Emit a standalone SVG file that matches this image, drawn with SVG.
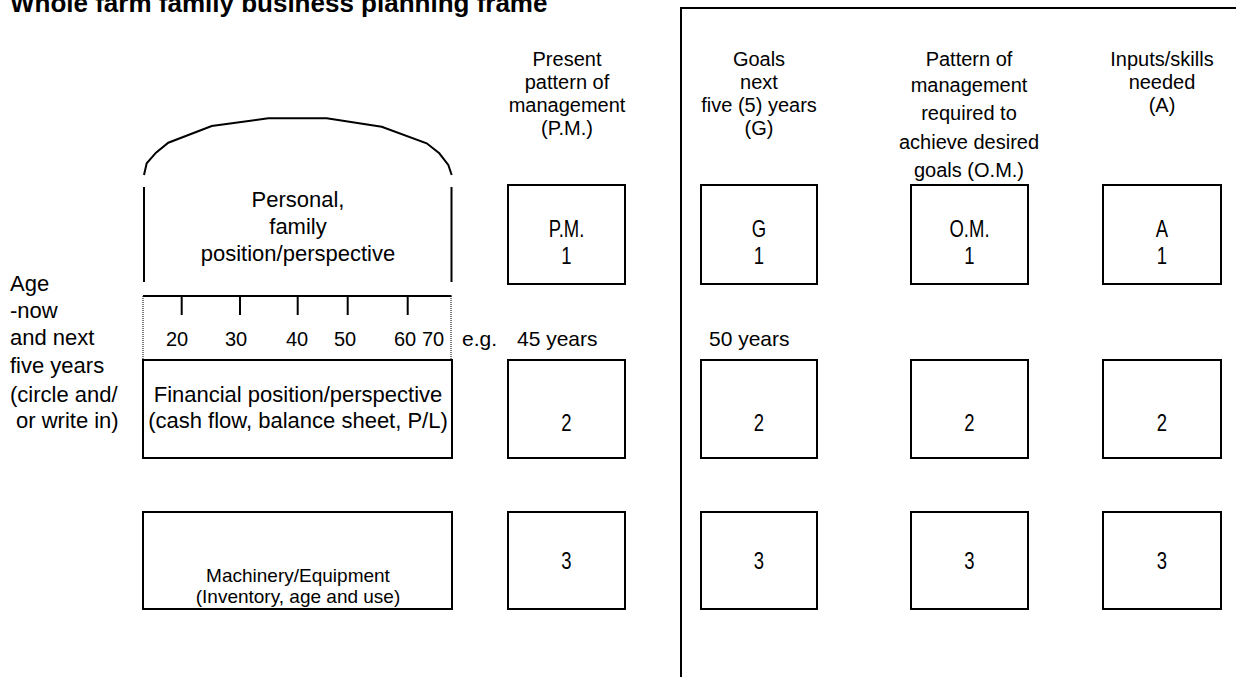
<svg xmlns="http://www.w3.org/2000/svg" width="1236" height="677" viewBox="0 0 1236 677">
<style>
.ln{stroke:#000;stroke-width:2;fill:none}
.dot{stroke:#000;stroke-width:1;stroke-dasharray:1 1;fill:none}
.box{stroke:#000;stroke-width:2;fill:#fff}
text{font-family:"Liberation Sans",Arial,sans-serif;fill:#000}
.title{font-size:26px;font-weight:bold}
.h{font-size:20px;text-anchor:middle}
.l{font-size:22px}
.c22{font-size:22px;text-anchor:middle}
.c19{font-size:19px;text-anchor:middle}
.n{font-size:20px;text-anchor:middle}
.lab{font-size:24px;text-anchor:middle}
</style>
<rect width="1236" height="677" fill="#fff"/>
<text class="title" x="10" y="12">Whole farm family business planning frame</text>

<g id="frame">
<polyline class="ln" points="681,677 681,8 1236,8"/>
</g>

<g id="headers">
<text class="h"><tspan x="567" y="66">Present</tspan><tspan x="567" y="89">pattern of</tspan><tspan x="567" y="112">management</tspan><tspan x="567" y="135">(P.M.)</tspan></text>
<text class="h"><tspan x="759" y="66">Goals</tspan><tspan x="759" y="89">next</tspan><tspan x="759" y="112">five (5) years</tspan><tspan x="759" y="135">(G)</tspan></text>
<text class="h"><tspan x="969" y="66">Pattern of</tspan><tspan x="969" y="92">management</tspan><tspan x="969" y="120">required to</tspan><tspan x="969" y="149">achieve desired</tspan><tspan x="969" y="177">goals (O.M.)</tspan></text>
<text class="h"><tspan x="1162" y="66">Inputs/skills</tspan><tspan x="1162" y="89">needed</tspan><tspan x="1162" y="112">(A)</tspan></text>
</g>

<g id="age-label">
<text class="l"><tspan x="10" y="290.5">Age</tspan><tspan x="10" y="317.5">-now</tspan><tspan x="10" y="345">and next</tspan><tspan x="10" y="373">five years</tspan><tspan x="10" y="401.5">(circle and/</tspan><tspan x="16" y="428">or write in)</tspan></text>
</g>

<g id="personal">
<polyline class="ln" points="144,175 146.7,163.3 156,152.7 168.3,142.7 211.7,126 268.3,118.3 326.7,118.3 381.7,126.7 426.7,143.3 439.3,153.3 448.3,165 451.7,175"/>
<line class="ln" x1="144" y1="187" x2="144" y2="282"/>
<line class="ln" x1="451.5" y1="187" x2="451.5" y2="282"/>
<text class="c22"><tspan x="298" y="207">Personal,</tspan><tspan x="298" y="234">family</tspan><tspan x="298" y="261">position/perspective</tspan></text>
</g>

<g id="age-scale">
<line class="ln" x1="143" y1="296" x2="451.5" y2="296"/>
<line class="ln" x1="181.7" y1="296" x2="181.7" y2="315"/>
<line class="ln" x1="240" y1="296" x2="240" y2="315"/>
<line class="ln" x1="297.7" y1="296" x2="297.7" y2="315"/>
<line class="ln" x1="347.7" y1="296" x2="347.7" y2="315"/>
<line class="ln" x1="407.7" y1="296" x2="407.7" y2="315"/>
<line class="dot" x1="143" y1="296" x2="143" y2="360"/>
<line class="dot" x1="451" y1="296" x2="451" y2="360"/>
<text class="n" y="345.5"><tspan x="177">20</tspan></text>
<text class="n" y="345.5"><tspan x="236">30</tspan></text>
<text class="n" y="345.5"><tspan x="297">40</tspan></text>
<text class="n" y="345.5"><tspan x="345">50</tspan></text>
<text class="n" y="345.5"><tspan x="405">60</tspan></text>
<text class="n" y="345.5"><tspan x="433">70</tspan></text>
</g>

<g id="examples">
<text class="l" style="font-size:21px" x="462" y="345.5">e.g.</text>
<text class="l" style="font-size:21px" x="517" y="345.5">45 years</text>
<text class="l" style="font-size:21px" x="709" y="345.5">50 years</text>
</g>

<g id="financial">
<rect class="box" x="143" y="360" width="309" height="98"/>
<text class="c22"><tspan x="298" y="401.5">Financial position/perspective</tspan><tspan x="298" y="428">(cash flow, balance sheet, P/L)</tspan></text>
</g>

<g id="machinery">
<rect class="box" x="143" y="512" width="309" height="97"/>
<text class="c19"><tspan x="298" y="582">Machinery/Equipment</tspan><tspan x="298" y="603">(Inventory, age and use)</tspan></text>
</g>

<g id="pm1"><rect class="box" x="508" y="185" width="117" height="99"/><text class="lab" transform="translate(566.5 0) scale(0.77 1)"><tspan x="0" y="237">P.M.</tspan><tspan x="0" y="264">1</tspan></text></g>
<g id="g1"><rect class="box" x="701" y="185" width="116" height="99"/><text class="lab" transform="translate(759 0) scale(0.77 1)"><tspan x="0" y="237">G</tspan><tspan x="0" y="264">1</tspan></text></g>
<g id="om1"><rect class="box" x="911" y="185" width="117" height="99"/><text class="lab" transform="translate(969.5 0) scale(0.77 1)"><tspan x="0" y="237">O.M.</tspan><tspan x="0" y="264">1</tspan></text></g>
<g id="a1"><rect class="box" x="1103" y="185" width="118" height="99"/><text class="lab" transform="translate(1162 0) scale(0.77 1)"><tspan x="0" y="237">A</tspan><tspan x="0" y="264">1</tspan></text></g>

<g id="pm2"><rect class="box" x="508" y="360" width="117" height="98"/><text class="lab" transform="translate(566.5 0) scale(0.77 1)" x="0" y="431">2</text></g>
<g id="g2"><rect class="box" x="701" y="360" width="116" height="98"/><text class="lab" transform="translate(759 0) scale(0.77 1)" x="0" y="431">2</text></g>
<g id="om2"><rect class="box" x="911" y="360" width="117" height="98"/><text class="lab" transform="translate(969.5 0) scale(0.77 1)" x="0" y="431">2</text></g>
<g id="a2"><rect class="box" x="1103" y="360" width="118" height="98"/><text class="lab" transform="translate(1162 0) scale(0.77 1)" x="0" y="431">2</text></g>

<g id="pm3"><rect class="box" x="508" y="512" width="117" height="97"/><text class="lab" transform="translate(566.5 0) scale(0.77 1)" x="0" y="569">3</text></g>
<g id="g3"><rect class="box" x="701" y="512" width="116" height="97"/><text class="lab" transform="translate(759 0) scale(0.77 1)" x="0" y="569">3</text></g>
<g id="om3"><rect class="box" x="911" y="512" width="117" height="97"/><text class="lab" transform="translate(969.5 0) scale(0.77 1)" x="0" y="569">3</text></g>
<g id="a3"><rect class="box" x="1103" y="512" width="118" height="97"/><text class="lab" transform="translate(1162 0) scale(0.77 1)" x="0" y="569">3</text></g>
</svg>
